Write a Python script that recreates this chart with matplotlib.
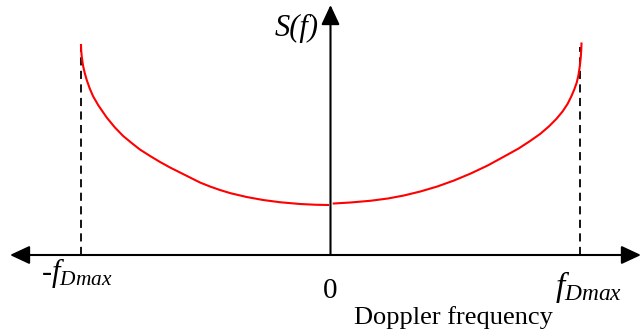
import matplotlib
matplotlib.use("Agg")
import matplotlib.pyplot as plt
from matplotlib.patches import ArrowStyle

plt.rcParams['font.family'] = ['Liberation Serif', 'DejaVu Serif']
plt.rcParams['mathtext.fontset'] = 'custom'
plt.rcParams['mathtext.rm'] = 'Liberation Serif'
plt.rcParams['mathtext.it'] = 'Liberation Serif:italic'

# normalised Doppler frequency f / fDmax and spectrum level, read per half
f_left = [-1.000, -0.999, -0.997, -0.994, -0.991, -0.985, -0.977, -0.965,
          -0.951, -0.930, -0.897, -0.864, -0.831, -0.797, -0.764, -0.723,
          -0.683, -0.643, -0.603, -0.563, -0.523, -0.483, -0.443, -0.400,
          -0.336, -0.270, -0.202, -0.122, -0.060, -0.010]
s_left = [4.20, 4.08, 3.97, 3.86, 3.77, 3.64, 3.50, 3.33,
          3.17, 2.99, 2.75, 2.55, 2.38, 2.24, 2.11, 1.98,
          1.86, 1.75, 1.65, 1.55, 1.45, 1.37, 1.30, 1.235,
          1.16, 1.10, 1.055, 1.02, 1.005, 1.00]

f_right = [0.013, 0.080, 0.161, 0.230, 0.294, 0.360, 0.428, 0.495,
           0.562, 0.630, 0.696, 0.754, 0.800, 0.840, 0.875, 0.905,
           0.930, 0.950, 0.965, 0.977, 0.987, 0.994, 0.999, 1.003,
           1.005, 1.006]
s_right = [1.03, 1.05, 1.085, 1.13, 1.19, 1.27, 1.37, 1.49,
           1.63, 1.79, 1.97, 2.13, 2.28, 2.42, 2.57, 2.72,
           2.87, 3.02, 3.17, 3.31, 3.45, 3.60, 3.77, 3.95,
           4.10, 4.23]

f_edges = [-1.0, 1.0]
edge_tops = [4.20, 4.15]

x_tick_labels = [r'-$f_{Dmax}$', '0', r'$f_{Dmax}$']

fig = plt.figure(figsize=(6.43, 3.33), dpi=100)
ax = fig.add_axes([0, 0, 1, 1])
ax.set_xlim(-1.3246, 1.2525)
ax.set_ylim(-1.56, 5.1)
ax.axis('off')

# axes drawn as arrows
arrow = ArrowStyle('-|>', head_length=0.6, head_width=0.28)
darrow = ArrowStyle('<|-|>', head_length=0.6, head_width=0.28)
ax.annotate('', xy=(1.2445, 0), xytext=(-1.2846, 0),
            arrowprops=dict(arrowstyle=darrow, mutation_scale=20, color='black',
                            lw=1.5, shrinkA=0, shrinkB=0))
ax.annotate('', xy=(0, 5.0), xytext=(0, 0),
            arrowprops=dict(arrowstyle=arrow, mutation_scale=20, color='black',
                            lw=1.5, shrinkA=0, shrinkB=0))

# band edges
for fe, top in zip(f_edges, edge_tops):
    ax.plot([fe, fe], [0, top], color='black', lw=1.3, dashes=(4.5, 3))

ax.plot(f_left, s_left, color='#ff0000', lw=1.5, solid_joinstyle='round')
ax.plot(f_right, s_right, color='#ff0000', lw=1.5, solid_joinstyle='round')

ax.text(-1.016, -0.36, x_tick_labels[0], fontsize=22, ha='center', va='center')
ax.text(0.0, -0.72, x_tick_labels[1], fontsize=21, ha='center', va='center')
ax.text(1.032, -0.64, x_tick_labels[2], fontsize=24, ha='center', va='center')
ax.text(0.491, -1.26, 'Doppler frequency', fontsize=19, ha='center', va='center')
ax.text(-0.136, 4.54, 'S(f)', fontsize=22, style='italic', ha='center', va='center')

fig.savefig('out.png', dpi=100, facecolor='white')
